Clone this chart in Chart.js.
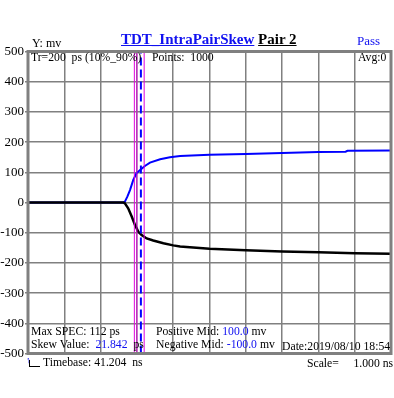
<!DOCTYPE html>
<html>
<head>
<meta charset="utf-8">
<script src="https://cdn.jsdelivr.net/npm/chart.js@4/dist/chart.umd.min.js"></script>
<style>
  html, body { margin: 0; padding: 0; background: #fff; }
  #wrap { position: relative; width: 394px; height: 398px; overflow: hidden; }
  canvas { position: absolute; left: 0; top: 0; }
  .t { position: absolute; font-family: "Liberation Serif", "DejaVu Serif", serif; font-size: 11.7px; color: #000; white-space: pre; line-height: 1; }
  .b { color: #1010f0; }
</style>
</head>
<body>
<div id="wrap">
  <canvas id="c" width="394" height="398"></canvas>
  <div class="t" style="left:32px;top:37px;font-size:12px;">Y: mv</div>
  <div class="t" style="left:121px;top:32px;font-size:15px;font-weight:bold;"><span class="b" style="text-decoration:underline;">TDT_IntraPairSkew</span> <span style="text-decoration:underline;">Pair 2</span></div>
  <div class="t b" style="left:357px;top:34px;font-size:13px;">Pass</div>
  <div class="t" style="left:31px;top:52px;">Tr=200  ps (10%_90%)</div>
  <div class="t" style="left:152px;top:52px;">Points:  1000</div>
  <div class="t" style="left:358px;top:52px;">Avg:0</div>
  <div class="t" style="left:31px;top:326px;">Max SPEC: 112 ps</div>
  <div class="t" style="left:31px;top:339px;">Skew Value:  <span class="b">21.842</span>  ps</div>
  <div class="t" style="left:156px;top:326px;">Positive Mid: <span class="b">100.0</span> mv</div>
  <div class="t" style="left:156px;top:339px;">Negative Mid: <span class="b">-100.0</span> mv</div>
  <div class="t" style="left:282px;top:341px;">Date:2019/08/10 18:54</div>
  <div class="t" style="left:43px;top:357px;">Timebase: 41.204  ns</div>
  <div class="t" style="left:307px;top:358px;">Scale=     1.000 ns</div>
  <div style="position:absolute;left:29px;top:360px;width:10px;height:6px;border-left:1px solid #000;border-bottom:1px solid #000;"></div>
  <div class="t b" style="left:26px;top:356px;font-size:9px;">↑</div>
</div>
<script>
// ---- data (time in divisions, 1 div = 1.000 ns) ----
const posTime   = [0, 2.63, 2.67, 2.74, 2.81, 2.90, 2.99, 3.09, 3.22, 3.36, 3.64, 3.91, 4.19, 5, 6, 7, 8, 8.75, 8.8, 10];
const posValues = [0, 0, 3, 20, 41, 75, 97, 108, 121, 132, 143, 150, 154, 158, 161, 164, 167, 168, 171, 172];
const negTime   = [0, 2.63, 2.67, 2.76, 2.86, 2.95, 3.04, 3.13, 3.27, 3.45, 3.73, 4.0, 4.19, 5, 6, 7, 8, 9, 10];
const negValues = [0, 0, -3, -19, -47, -75, -97, -108, -119, -126, -135, -142, -146, -153, -158, -162, -165, -168, -170];
const magentaMarkers = [2.93, 3.0, 3.20];
const skewMarker = 3.11;
const yTicks = [500, 400, 300, 200, 100, 0, -100, -200, -300, -400, -500];
const yMin = -500, yMax = 500, xMin = 0, xMax = 10;

const toPts = (xs, ys) => xs.map((x, i) => ({ x: x, y: ys[i] }));
const vLine = (x) => [{ x: x, y: yMin }, { x: x, y: yMax }];

const datasets = [
  { data: toPts(negTime, negValues), borderColor: '#000', borderWidth: 2.5, pointRadius: 0, tension: 0, order: 1 },
  { data: toPts(posTime, posValues), borderColor: '#0000ff', borderWidth: 2, pointRadius: 0, tension: 0, order: 2 },
  { data: vLine(skewMarker), borderColor: '#0000ff', borderWidth: 2, borderDash: [8, 4], pointRadius: 0, order: 0 },
  ...magentaMarkers.map(m => ({ data: vLine(m), borderColor: '#e000e0', borderWidth: 1, pointRadius: 0, order: 0 }))
];

const frame = {
  id: 'frame',
  afterDraw(chart) {
    const a = chart.chartArea, ctx = chart.ctx;
    ctx.save();
    ctx.strokeStyle = '#808080';
    ctx.lineWidth = 3;
    ctx.strokeRect(a.left, a.top, a.right - a.left, a.bottom - a.top);
    ctx.restore();
  }
};

new Chart(document.getElementById('c'), {
  type: 'line',
  data: { datasets },
  plugins: [frame],
  options: {
    responsive: false,
    animation: false,
    layout: { padding: { top: 51.5, bottom: 44.5, right: 3, left: 0 } },
    plugins: { legend: { display: false }, tooltip: { enabled: false } },
    scales: {
      x: {
        type: 'linear', min: xMin, max: xMax,
        ticks: { display: false, stepSize: 1 },
        grid: { color: '#808080', lineWidth: 1.5, drawTicks: false },
        border: { display: false },
        afterFit(s) { s.height = 0; }
      },
      y: {
        type: 'linear', min: yMin, max: yMax,
        afterBuildTicks(s) { s.ticks = yTicks.map(v => ({ value: v })); },
        ticks: { color: '#000', font: { family: 'Liberation Serif', size: 13 }, padding: 1, callback: v => String(v) },
        grid: { color: '#808080', lineWidth: 1.5, tickLength: 3 },
        border: { display: false },
        afterFit(s) { s.width = 28; }
      }
    }
  }
});
</script>
</body>
</html>
